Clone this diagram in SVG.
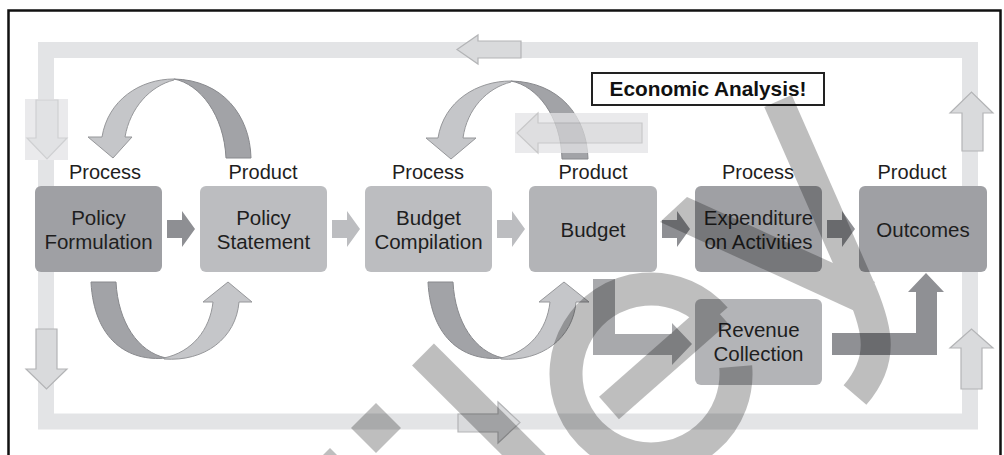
<svg xmlns="http://www.w3.org/2000/svg" width="1004" height="455" viewBox="0 0 1004 455">
  <style>
    .lbl { font-family: "Liberation Sans", Arial, sans-serif; font-size: 20px; fill: #1e1e1e; text-anchor: middle; }
    .txt { font-family: "Liberation Sans", Arial, sans-serif; font-size: 20.5px; fill: #1e1e1e; text-anchor: middle; }
    .ea { font-family: "Liberation Sans", Arial, sans-serif; font-size: 20.8px; font-weight: bold; fill: #111; text-anchor: middle; }
    .dark { fill: #9fa0a4; }
    .light { fill: #bcbdc0; }
    .mid { fill: #b3b4b7; }
    .loopArrow { fill: #d9dadc; stroke: #b3b4b6; stroke-width: 1.2; }
    .faint { fill: #e1e2e4; stroke: #cfd0d2; stroke-width: 1.2; }
    .ribDark { fill: #a2a3a7; stroke: #88898d; stroke-width: 1; }
    .ribLight { fill: #c5c6c9; stroke: #96979a; stroke-width: 1; }
    .flowDark { fill: #8e8f93; }
    .flowLight { fill: #bcbdc0; }
  </style>

  <!-- outer frame -->
  <path d="M 8.5 456 V 10.5 H 1000.5 V 456" fill="none" stroke="#111" stroke-width="2.5"/>

  <!-- feedback loop band with direction arrows -->
  <g id="loop">
    <rect x="46" y="50" width="924" height="371.5" fill="none" stroke="#e3e4e6" stroke-width="16"/>
    <polygon class="loopArrow" points="457,49.5 478,35 478,41 521,41 521,58 478,58 478,64"/>
    <rect x="25" y="99" width="43" height="61" fill="#eaeaec"/>
    <polygon class="faint" points="36,100 58,100 58,138 67,138 47,159 27,138 36,138"/>
    <polygon class="loopArrow" points="36,329 57,329 57,369 67,369 46.5,389 26,369 36,369"/>
    <polygon class="loopArrow" points="458,414 498,414 498,402 520,422.5 498,443 498,432 458,432"/>
    <polygon class="loopArrow" points="961,389 961,348 950,348 971.5,329 993,348 982,348 982,389"/>
    <polygon class="loopArrow" points="962,151 962,113 950,113 971.5,92 993,113 983,113 983,151"/>
  </g>

  <!-- process / product boxes -->
  <g id="policy-formulation">
    <text class="lbl" x="105" y="179">Process</text>
    <rect class="dark" x="35" y="186" width="127" height="86" rx="6"/>
    <text class="txt" x="98.5" y="225">Policy</text>
    <text class="txt" x="98.5" y="249">Formulation</text>
  </g>
  <g id="policy-statement">
    <text class="lbl" x="263" y="179">Product</text>
    <rect class="light" x="200" y="186" width="127" height="86" rx="6"/>
    <text class="txt" x="263.5" y="225">Policy</text>
    <text class="txt" x="263.5" y="249">Statement</text>
  </g>
  <g id="budget-compilation">
    <text class="lbl" x="428" y="179">Process</text>
    <rect class="light" x="365" y="186" width="127" height="86" rx="6"/>
    <text class="txt" x="428.5" y="225">Budget</text>
    <text class="txt" x="428.5" y="249">Compilation</text>
  </g>
  <g id="budget">
    <text class="lbl" x="593" y="179">Product</text>
    <rect class="mid" x="529" y="186" width="128" height="86" rx="6"/>
    <text class="txt" x="593" y="236.5">Budget</text>
  </g>
  <g id="expenditure">
    <text class="lbl" x="758" y="179">Process</text>
    <rect class="dark" x="695" y="186" width="127" height="86" rx="6"/>
    <text class="txt" x="758.5" y="225">Expenditure</text>
    <text class="txt" x="758.5" y="249">on Activities</text>
  </g>
  <g id="outcomes">
    <text class="lbl" x="912" y="179">Product</text>
    <rect class="dark" x="859" y="186" width="128" height="86" rx="6"/>
    <text class="txt" x="923" y="236.5">Outcomes</text>
  </g>
  <g id="revenue-collection">
    <rect class="mid" x="695" y="299" width="127" height="86" rx="6"/>
    <text class="txt" x="758.5" y="337">Revenue</text>
    <text class="txt" x="758.5" y="361">Collection</text>
  </g>
  <g id="economic-analysis">
    <rect x="592" y="73" width="232" height="32" fill="#fff" stroke="#222" stroke-width="2"/>
    <text class="ea" x="708" y="96">Economic Analysis!</text>
  </g>

  <!-- connectors -->
  <g id="connectors">
    <!-- forward flow between boxes -->
    <polygon class="flowDark" points="167,220 182,220 182,211 195,229 182,247 182,238 167,238"/>
    <polygon class="flowLight" points="332,220 347,220 347,211 360,229 347,247 347,238 332,238"/>
    <polygon class="flowLight" points="497,220 512,220 512,211 525,229 512,247 512,238 497,238"/>
    <polygon class="flowDark" points="662,220 677,220 677,211 690,229 677,247 677,238 662,238"/>
    <polygon class="flowDark" points="827,220 842,220 842,211 855,229 842,247 842,238 827,238"/>

    <!-- budget to revenue, revenue to outcomes -->
    <polygon fill="#a8a9ac" points="593,279 615,279 615,334 672,334 672,323 692,344 672,365 672,355 593,355"/>
    <polygon fill="#8f9094" points="832,333 916,333 916,292 908,292 926,273 944,292 937,292 937,355 832,355"/>

    <!-- twisted loop arrows: policy pair -->
    <g id="policy-loops">
      <path class="ribDark" d="M 251,158 C 250,115 222,80 174,79 C 200,84 224,115 226,158 Z"/>
      <path class="ribLight" d="M 174,79 C 140,79 108,100 102,137 L 88,137 L 113,158 L 132,137 L 125,137 C 130,108 150,86 174,80 Z"/>
      <path class="ribDark" d="M 91,282 L 116,282 C 118,322 138,352 166,358 C 128,362 94,340 91,282 Z"/>
      <path class="ribLight" d="M 164,359 C 205,362 236,338 239,302 L 252,302 L 228,282 L 203,302 L 213,302 C 210,330 192,352 164,358 Z"/>
    </g>
    <!-- twisted loop arrows: budget pair -->
    <g id="budget-loops">
      <path class="ribDark" d="M 588,159 C 587,116 559,82 511,81 C 537,86 561,116 562,159 Z"/>
      <path class="ribLight" d="M 511,81 C 477,81 444,101 438,138 L 426,138 L 451,159 L 476,138 L 463,138 C 467,109 487,88 511,82 Z"/>
      <path class="ribDark" d="M 428,282 L 453,282 C 455,322 475,352 503,358 C 465,362 431,340 428,282 Z"/>
      <path class="ribLight" d="M 501,359 C 542,362 573,338 576,302 L 589,302 L 564,282 L 539,302 L 550,302 C 547,330 529,352 501,358 Z"/>
    </g>

    <!-- economic analysis feedback -->
    <g opacity="0.75">
      <rect x="515" y="113" width="133" height="40" fill="#e4e4e6"/>
      <polygon points="517,133 538,113 538,123 642,123 642,143 538,143 538,153" fill="#d4d4d6" stroke="#b6b6b8" stroke-width="1.2"/>
    </g>
  </g>

  <!-- publisher watermark strokes -->
  <g id="watermark" opacity="0.25" fill="#000" stroke="#000">
    <polygon stroke="none" points="376,403 401,428 376,453 351,428"/>
    <polygon stroke="none" points="330,448 355,473 330,498 305,473"/>
    <line x1="423" y1="354.5" x2="545" y2="476" stroke-width="31" fill="none"/>
    <path d="M 715.2 318.2 A 85 85 0 1 0 735.7 366.6" fill="none" stroke-width="33"/>
    <line x1="609" y1="408" x2="718" y2="312" stroke-width="30"/>
    <path d="M 778,101 L 862,292 C 878,330 885,360 855,395" fill="none" stroke-width="30"/>
    <polygon stroke="none" points="660,222 687,197 875,282 857,312"/>
  </g>
</svg>
